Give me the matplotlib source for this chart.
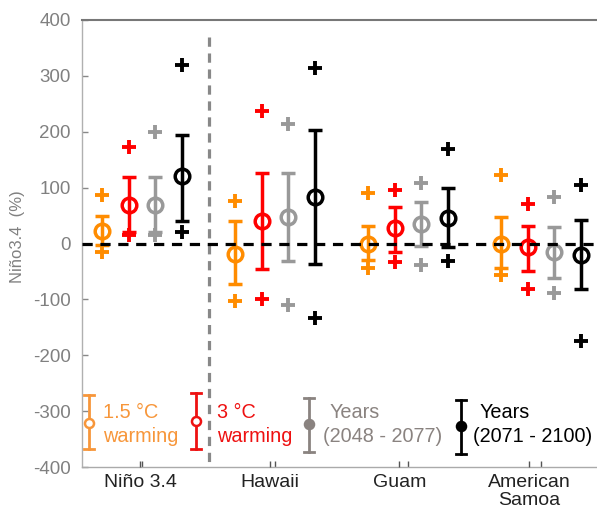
import matplotlib
matplotlib.use("Agg")
import matplotlib.pyplot as plt
import numpy as np

plt.rcParams['font.family'] = ['Liberation Sans', 'DejaVu Sans']

# ---------------- data ----------------
categories = ["Niño 3.4", "Hawaii", "Guam", "American\nSamoa"]
series_names = ["1.5 °C warming", "3 °C warming", "Years (2048 - 2077)", "Years (2071 - 2100)"]

mean_15 = [23, -18, 0, -1]
mean_30 = [69, 40, 27, -6]
mean_early = [69, 48, 35, -15]
mean_late = [120, 84, 46, -21]

low_15 = [-3, -73, -30, -44]
low_30 = [20, -46, -16, -49]
low_early = [20, -31, -4, -62]
low_late = [41, -36, -6, -82]

high_15 = [50, 40, 31, 47]
high_30 = [119, 126, 66, 32]
high_early = [119, 126, 75, 30]
high_late = [195, 204, 99, 42]

out_hi_15 = [86, 76, 91, 123]
out_hi_30 = [173, 237, 96, 71]
out_hi_early = [200, 214, 108, 84]
out_hi_late = [319, 314, 169, 105]

out_lo_15 = [-15, -103, -43, -56]
out_lo_30 = [15, -100, -33, -82]
out_lo_early = [15, -110, -38, -89]
out_lo_late = [21, -134, -31, -174]

yticks = [-400, -300, -200, -100, 0, 100, 200, 300, 400]

# ---------------- styling ----------------
colors = ['#FF8C00', '#FF0000', '#999999', '#000000']
legend_colors = ['#F7963A', '#EE1111', '#8A8380', '#000000']
offsets = [-0.3, -0.1, 0.1, 0.3]

means = [mean_15, mean_30, mean_early, mean_late]
lows = [low_15, low_30, low_early, low_late]
highs = [high_15, high_30, high_early, high_late]
out_his = [out_hi_15, out_hi_30, out_hi_early, out_hi_late]
out_los = [out_lo_15, out_lo_30, out_lo_early, out_lo_late]

W, H = 597, 513
fig = plt.figure(figsize=(W / 100, H / 100), dpi=100)

ax_l, ax_r, ax_t, ax_b = 82, 597, 20, 467
ax = fig.add_axes([ax_l / W, 1 - ax_b / H, (ax_r - ax_l) / W, (ax_b - ax_t) / H])

pos = np.arange(1, len(categories) + 1)
for k in range(4):
    x = pos + offsets[k]
    m = np.array(means[k])
    lo = np.array(lows[k])
    hi = np.array(highs[k])
    ax.errorbar(x, m, yerr=[m - lo, hi - m], fmt='o', color=colors[k],
                mfc='none', mec=colors[k], ms=10.5, mew=2.5, elinewidth=2.5,
                capsize=5.2, capthick=2.5, zorder=3)
    ax.plot(x, out_his[k], ls='none', marker='+', ms=10, mew=2.8, color=colors[k], zorder=3)
    ax.plot(x, out_los[k], ls='none', marker='+', ms=10, mew=2.8, color=colors[k], zorder=3)

# data axis: groups at top-tick positions
ax.set_xlim(1 - 60 / 133.0, 4 + 56 / 133.0)
ax.set_ylim(-400, 400)

# zero line
ax.axhline(0, color='black', lw=2.3, dashes=(3.2, 2.4), zorder=5)
# vertical separator
ax.plot([1.5, 1.5], [370, -400], color='#888888', lw=2.3, dashes=(2.9, 2.1),
        zorder=2, clip_on=False)

ax.set_yticks(yticks)
ax.set_yticklabels([str(v) for v in yticks])
ax.tick_params(axis='y', direction='in', length=4, width=1, color='#888888',
               labelcolor='#808080', labelsize=13.5, pad=8)
ax.xaxis.set_ticks_position('top')
ax.set_xticks(pos)
ax.tick_params(axis='x', direction='in', length=4, width=1, color='#555555',
               labeltop=False, labelbottom=False)

ax.spines['right'].set_visible(False)
ax.spines['left'].set_color('#b0b0b0')
ax.spines['left'].set_linewidth(1)
ax.spines['top'].set_color('#777777')
ax.spines['top'].set_linewidth(1.5)
ax.spines['bottom'].set_color('#aaaaaa')
ax.spines['bottom'].set_linewidth(1)

# category axis at bottom
ax2 = ax.twiny()
ax2.set_xlim(1 - 58 / 129.7, 4 + 68 / 129.7)
ax2.xaxis.set_ticks_position('bottom')
ax2.xaxis.set_label_position('bottom')
ax2.set_xticks(pos)
ax2.set_xticklabels(categories, fontsize=14, color='#222222', linespacing=1.1)
ax2.tick_params(axis='x', direction='in', length=4, width=1, color='#555555', pad=5)
for s in ax2.spines.values():
    s.set_visible(False)

fig.text(18 / W, 1 - 237 / H, "Niño3.4  (%)", rotation=90, ha='center', va='center',
         fontsize=12, color='#808080')

# ---------------- legend (drawn in pixel coords) ----------------
ov = fig.add_axes([0, 0, 1, 1], facecolor='none')
ov.set_xlim(0, W)
ov.set_ylim(H, 0)
ov.axis('off')

leg = [
    # x, top, bottom, circle y, filled, text x line1, text x line2, line1, line2
    (89, 395, 449, 423, False, 103, 103, "1.5 °C", "warming"),
    (196, 393, 449, 421, False, 217, 217, "3 °C", "warming"),
    (309, 398, 452, 424, True, 330, 323, "Years", "(2048 - 2077)"),
    (461, 400, 454, 426, True, 480, 473, "Years", "(2071 - 2100)"),
]
for i, (lx, lt, lb, lc, filled, tx1, tx2, t1, t2) in enumerate(leg):
    c = legend_colors[i]
    ov.plot([lx, lx], [lt, lb], color=c, lw=2)
    ov.plot([lx - 5, lx + 5], [lt, lt], color=c, lw=2)
    ov.plot([lx - 5, lx + 5], [lb, lb], color=c, lw=2)
    ov.plot([lx], [lc], marker='o', ms=6.5, mew=1.8, mec=c,
            mfc=c if filled else 'white')
    ov.text(tx1, 412, t1, color=c, fontsize=14.3, ha='left', va='center')
    ov.text(tx2, 437, t2, color=c, fontsize=14.3, ha='left', va='center')

fig.savefig("out.png", dpi=100)
